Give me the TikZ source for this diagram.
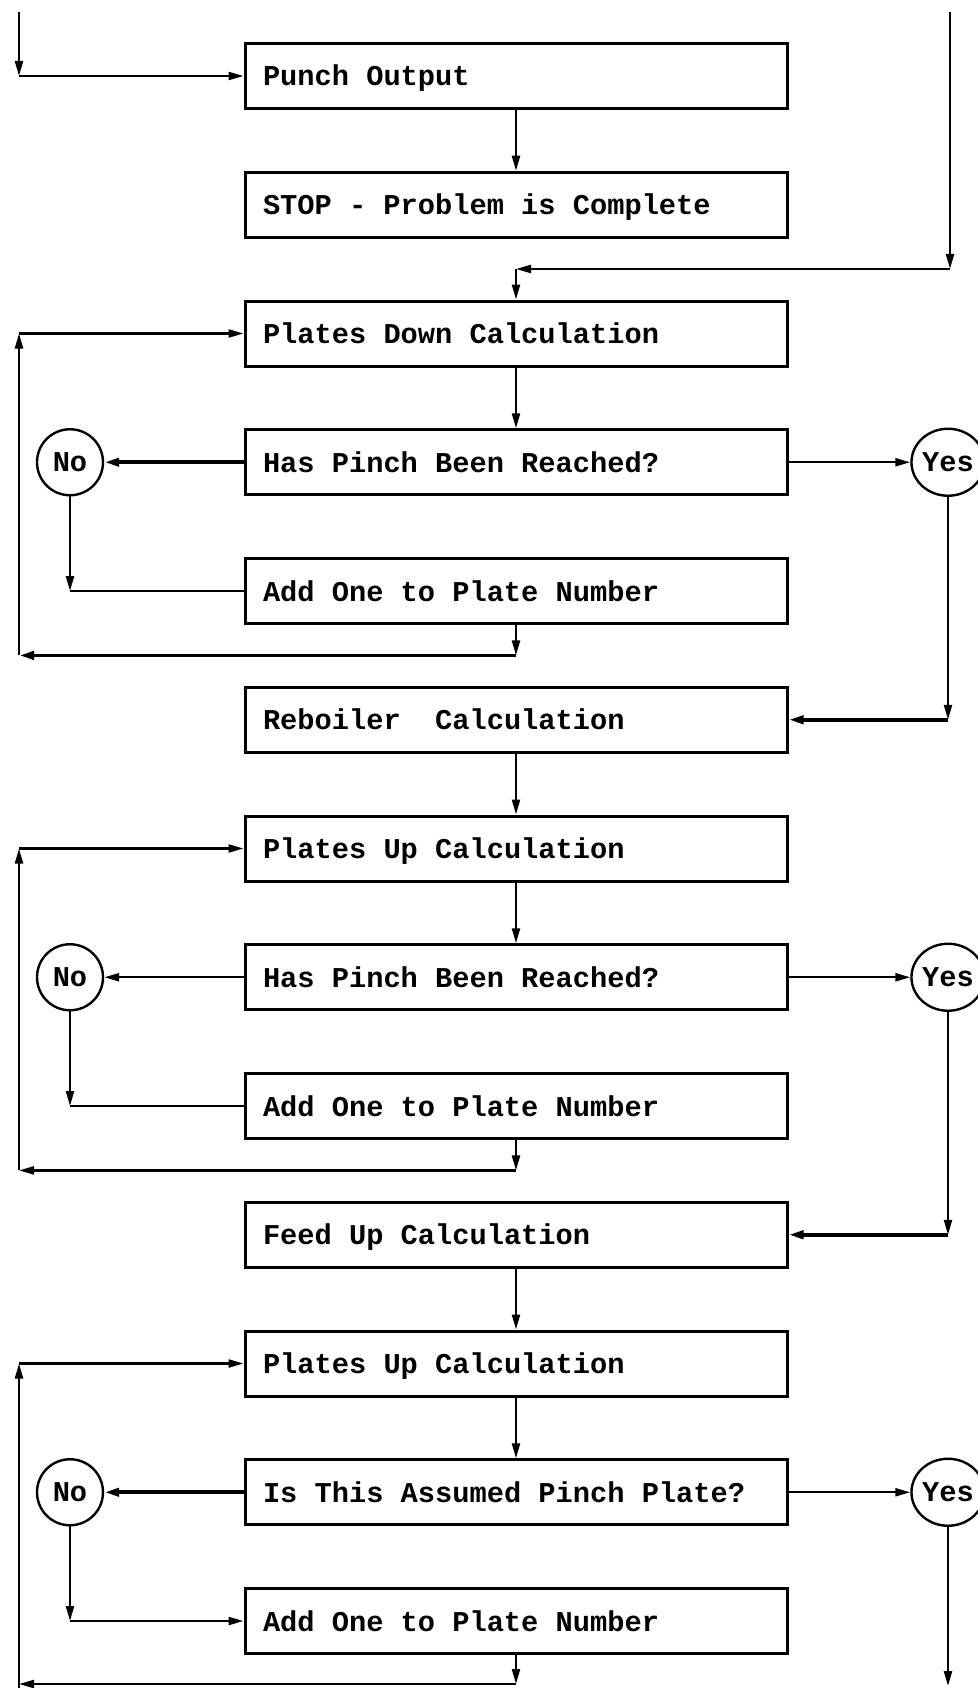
\documentclass[tikz,border=0pt]{standalone}
\usepackage{fontspec}
\setmonofont{Liberation Mono}
\usetikzlibrary{shapes.geometric,arrows.meta}
\newcommand{\flowfont}{\ttfamily\bfseries\fontsize{28.7}{30}\selectfont}
\begin{document}
\begin{tikzpicture}[x=1pt,y=-1pt,
  txt/.style={font=\flowfont},
  box/.style={txt,draw,line width=3pt,minimum width=542pt,minimum height=65pt,
    text width=506pt,inner xsep=18pt,inner ysep=0pt,align=left,text height=25pt,text depth=5pt,
    execute at begin node={\spaceskip=17.2pt\relax\xspaceskip=17.2pt\relax}},
  nocirc/.style={txt,draw,line width=2.4pt,circle,minimum size=66pt,inner sep=0pt},
  yescirc/.style={txt,draw,line width=2.4pt,ellipse,minimum width=55pt,minimum height=67pt,inner sep=0pt},
  conn/.style={line width=2.3pt},
  arr/.style={conn,-{Triangle[length=15pt,width=8pt]}},
  thickarr/.style={arr,line width=3.8pt}
]
\useasboundingbox (0,0) rectangle (977,1688);

% boxes
\node[box] (punch)   at (516,76)      {Punch Output};
\node[box] (stop)    at (516,204.75)  {STOP - Problem is Complete};
\node[box] (pdown)   at (516,333.5)   {Plates Down Calculation};
\node[box] (pinch1)  at (516,462.25)  {Has Pinch Been Reached?};
\node[box] (add1)    at (516,591)     {Add One to Plate Number};
\node[box] (reb)     at (516,719.75)  {Reboiler\hspace{17.2pt} Calculation};
\node[box] (pup1)    at (516,848.5)   {Plates Up Calculation};
\node[box] (pinch2)  at (516,977.25)  {Has Pinch Been Reached?};
\node[box] (add2)    at (516,1106)    {Add One to Plate Number};
\node[box] (feed)    at (516,1234.75) {Feed Up Calculation};
\node[box] (pup2)    at (516,1363.5)  {Plates Up Calculation};
\node[box] (assumed) at (516,1492.25) {Is This Assumed Pinch Plate?};
\node[box] (add3)    at (516,1621)    {Add One to Plate Number};

% decision circles
\node[nocirc]  (no1)  at (70,462.25)   {No};
\node[nocirc]  (no2)  at (70,977.25)   {No};
\node[nocirc]  (no3)  at (70,1492.25)  {No};
\node[yescirc] (yes1) at (948,462.25)  {Yes};
\node[yescirc] (yes2) at (948,977.25)  {Yes};
\node[yescirc] (yes3) at (948,1492.25) {Yes};

% helper coordinates
\coordinate (tl0) at (19,12);
\coordinate (tl1) at (19,76);
\coordinate (tr0) at (950,12);
\coordinate (tr1) at (950,269);
\coordinate (tr2) at (516,269);

\coordinate (l1a) at (516,655.4);
\coordinate (l1b) at (19,655.4);
\coordinate (l1c) at (19,333.5);
\coordinate (l2a) at (516,1170.4);
\coordinate (l2b) at (19,1170.4);
\coordinate (l2c) at (19,848.5);
\coordinate (l3a) at (516,1684);
\coordinate (l3b) at (19,1684);
\coordinate (l3c) at (19,1363.5);
\coordinate (l3d) at (19,1688);

\coordinate (n1) at (70,591);
\coordinate (n2) at (70,1106);
\coordinate (n3) at (70,1621);
\coordinate (y1) at (948,719.75);
\coordinate (y2) at (948,1234.75);
\coordinate (y3) at (948,1686);

% top entries
\draw[arr] (tl0) -- (tl1);
\draw[arr] (tl1) -- (punch.west);
\draw[arr] (punch) -- (stop);
\draw[arr] (tr0) -- (tr1);
\draw[arr] (tr1) -- (tr2);
\draw[arr] (tr2) -- (pdown.north);

% block 1
\draw[arr] (pdown) -- (pinch1);
\draw[thickarr] (pinch1.west) -- (no1.east);
\draw[arr] (pinch1.east) -- (yes1.west);
\draw[arr] (no1.south) -- (n1);
\draw[conn] (n1) -- (add1.west);
\draw[arr] (add1.south) -- (l1a);
\draw[thickarr] (l1a) -- (l1b);
\draw[arr] (l1b) -- (l1c);
\draw[arr] (l1c) -- (pdown.west);
\draw[arr] (yes1.south) -- (y1);
\draw[thickarr] (y1) -- (reb.east);

% block 2
\draw[arr] (reb) -- (pup1);
\draw[arr] (pup1) -- (pinch2);
\draw[arr] (pinch2.west) -- (no2.east);
\draw[arr] (pinch2.east) -- (yes2.west);
\draw[arr] (no2.south) -- (n2);
\draw[conn] (n2) -- (add2.west);
\draw[arr] (add2.south) -- (l2a);
\draw[arr] (l2a) -- (l2b);
\draw[arr] (l2b) -- (l2c);
\draw[arr] (l2c) -- (pup1.west);
\draw[arr] (yes2.south) -- (y2);
\draw[thickarr] (y2) -- (feed.east);

% block 3
\draw[arr] (feed) -- (pup2);
\draw[arr] (pup2) -- (assumed);
\draw[thickarr] (assumed.west) -- (no3.east);
\draw[arr] (assumed.east) -- (yes3.west);
\draw[arr] (no3.south) -- (n3);
\draw[arr] (n3) -- (add3.west);
\draw[arr] (add3.south) -- (l3a);
\draw[arr] (l3a) -- (l3b);
\draw[arr] (l3d) -- (l3c);
\draw[arr] (l3c) -- (pup2.west);
\draw[arr] (yes3.south) -- (y3);
\end{tikzpicture}
\end{document}
